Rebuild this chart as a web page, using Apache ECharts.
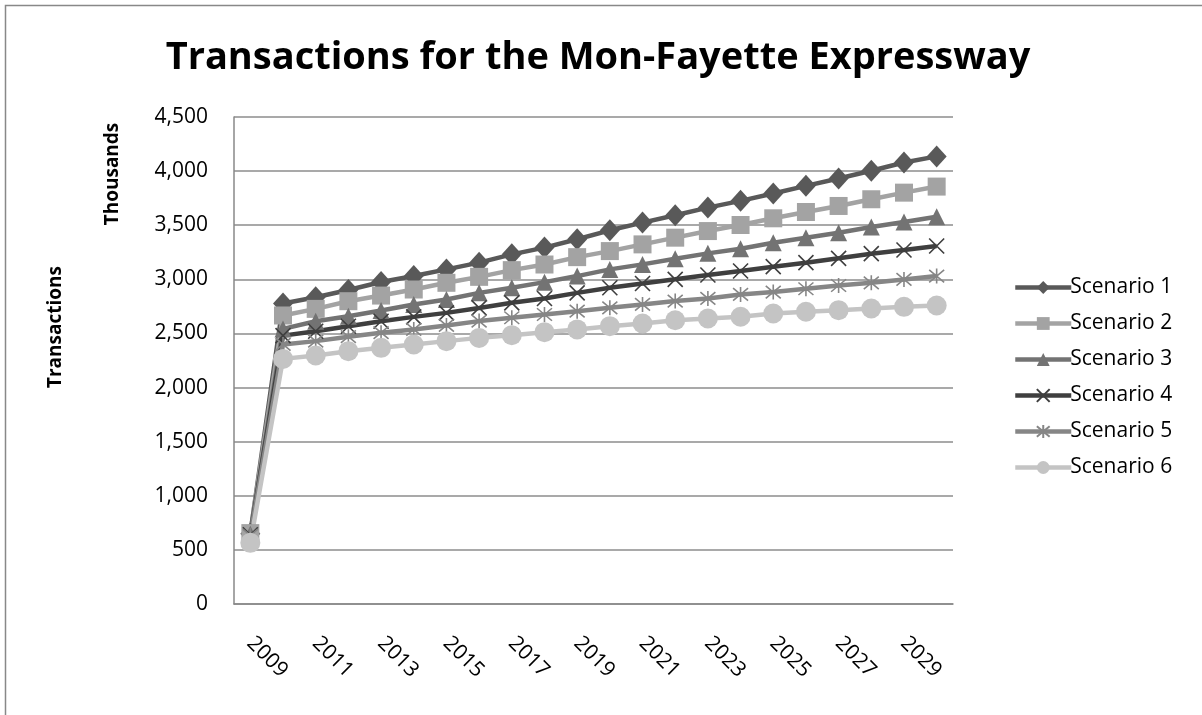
<!DOCTYPE html>
<html>
<head>
<meta charset="utf-8">
<script src="https://cdn.jsdelivr.net/npm/echarts@6/dist/echarts.min.js"></script>
<style>
  html, body { margin: 0; padding: 0; background: #fff; }
  #chart { width: 1202px; height: 715px; }
</style>
</head>
<body>
<div id="chart"></div>
<script>
// Annual transactions (thousands) per scenario, 2009–2030
const years = ['2009','2010','2011','2012','2013','2014','2015','2016','2017','2018','2019',
               '2020','2021','2022','2023','2024','2025','2026','2027','2028','2029','2030'];
const scenario1 = [650, 2777, 2835, 2902, 2975, 3031, 3092, 3154, 3231, 3293, 3370, 3453, 3524, 3592, 3663, 3725, 3793, 3864, 3932, 4003, 4080, 4136];
const scenario2 = [655, 2666, 2727, 2798, 2850, 2906, 2968, 3023, 3085, 3137, 3205, 3261, 3323, 3385, 3446, 3502, 3564, 3622, 3678, 3740, 3801, 3857];
const scenario3 = [645, 2542, 2613, 2659, 2712, 2768, 2814, 2875, 2922, 2974, 3030, 3092, 3138, 3190, 3240, 3283, 3338, 3385, 3431, 3483, 3529, 3579];
const scenario4 = [640, 2480, 2520, 2566, 2613, 2653, 2690, 2736, 2783, 2823, 2875, 2922, 2962, 3000, 3040, 3077, 3117, 3154, 3194, 3237, 3271, 3308];
const scenario5 = [635, 2398, 2429, 2470, 2507, 2537, 2574, 2614, 2645, 2675, 2706, 2737, 2768, 2799, 2823, 2860, 2882, 2913, 2943, 2968, 2999, 3030];
const scenario6 = [565, 2265, 2296, 2336, 2367, 2398, 2429, 2459, 2484, 2512, 2537, 2567, 2592, 2622, 2638, 2654, 2684, 2700, 2715, 2730, 2746, 2758];
const seriesNames = ['Scenario 1','Scenario 2','Scenario 3','Scenario 4','Scenario 5','Scenario 6'];

const FONT = '"Open Sans", "Noto Sans", sans-serif';

// Stroke-only glyphs for the cross and star markers
const crossPath = 'path://M0,0L10,10M10,0L0,10';
const starPath = 'path://M0,0L10,10M10,0L0,10M5,-1L5,11';

function lineSeries(name, data, color, symbol, size, markerStyle) {
  return {
    name: name,
    type: 'line',
    data: data,
    symbol: symbol,
    symbolSize: size,
    showAllSymbol: true,
    lineStyle: { color: color, width: 4.5 },
    itemStyle: markerStyle || { color: color },
    emphasis: { disabled: true },
    animation: false
  };
}

const chart = echarts.init(document.getElementById('chart'), null, { renderer: 'canvas' });

chart.setOption({
  backgroundColor: '#ffffff',
  animation: false,
  title: {
    text: 'Transactions for the Mon-Fayette Expressway',
    left: 593,
    top: 34,
    textAlign: 'center',
    textStyle: { fontFamily: FONT, fontWeight: 'bold', fontSize: 38, color: '#000' }
  },
  grid: { left: 234, right: 249, top: 117, bottom: 111 },
  legend: {
    orient: 'vertical',
    left: 1008,
    top: 272,
    itemWidth: 56,
    itemHeight: 16,
    itemGap: 15,
    lineStyle: { width: 4.5 },
    textStyle: { fontFamily: FONT, fontSize: 21, color: '#000', padding: [0, 0, 0, -6] },
    data: seriesNames
  },
  xAxis: {
    type: 'category',
    data: years,
    boundaryGap: true,
    axisLine: { lineStyle: { color: '#888', width: 1.5 } },
    axisTick: { show: false },
    axisLabel: {
      interval: 1,
      rotate: -45,
      margin: 36,
      fontFamily: FONT,
      fontSize: 21,
      color: '#000'
    }
  },
  yAxis: {
    type: 'value',
    min: 0,
    max: 4500,
    interval: 500,
    axisLine: { show: true, lineStyle: { color: '#888', width: 1.5 } },
    axisTick: { show: false },
    splitLine: { lineStyle: { color: '#8c8c8c', width: 1.5 } },
    axisLabel: {
      margin: 26,
      fontFamily: FONT,
      fontSize: 21,
      color: '#000',
      formatter: v => v.toLocaleString('en-US')
    }
  },
  graphic: [
    {
      type: 'rect',
      shape: { x: 5.5, y: 5.5, width: 1300, height: 800 },
      style: { fill: 'none', stroke: '#888', lineWidth: 1.5 },
      silent: true
    },
    {
      type: 'text',
      x: 113, y: 174,
      rotation: Math.PI / 2,
      style: {
        text: 'Thousands', fontFamily: FONT, fontWeight: 'bold', fontSize: 19,
        fill: '#000', align: 'center', verticalAlign: 'middle'
      }
    },
    {
      type: 'text',
      x: 56, y: 327,
      rotation: Math.PI / 2,
      style: {
        text: 'Transactions', fontFamily: FONT, fontWeight: 'bold', fontSize: 19,
        fill: '#000', align: 'center', verticalAlign: 'middle'
      }
    }
  ],
  series: [
    lineSeries(seriesNames[0], scenario1, '#595959', 'diamond', [20, 22]),
    lineSeries(seriesNames[1], scenario2, '#a3a3a3', 'rect', 18),
    lineSeries(seriesNames[2], scenario3, '#737373', 'triangle', 17),
    lineSeries(seriesNames[3], scenario4, '#3f3f3f', crossPath, 15,
      { color: 'transparent', borderColor: '#3f3f3f', borderWidth: 1.6 }),
    lineSeries(seriesNames[4], scenario5, '#868686', starPath, 15,
      { color: 'transparent', borderColor: '#868686', borderWidth: 1.6 }),
    lineSeries(seriesNames[5], scenario6, '#c4c4c4', 'circle', 20)
  ]
});
</script>
</body>
</html>
